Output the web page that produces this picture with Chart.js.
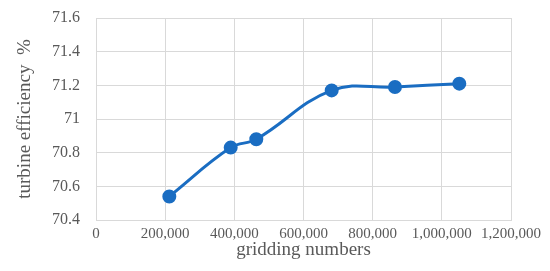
<!DOCTYPE html>
<html>
<head>
<meta charset="utf-8">
<script src="https://cdn.jsdelivr.net/npm/chart.js@4"></script>
<style>
  html,body{margin:0;padding:0;background:#fff}
  #wrap{width:550px;height:271px}
</style>
</head>
<body>
<div id="wrap"><canvas id="c" width="550" height="271"></canvas></div>
<script>
// values
const gridCounts = [212000, 389500, 463500, 681500, 864500, 1050500]
const efficiency = [70.54, 70.83, 70.88, 71.17, 71.19, 71.21]
const xTicks = [0, 200000, 400000, 600000, 800000, 1000000, 1200000]
const yTicks = [70.4, 70.6, 70.8, 71, 71.2, 71.4, 71.6]

const font = "'Liberation Serif', 'Times New Roman', serif"
const grey = '#595959'
const blue = '#1a6dc2'

const points = gridCounts.map((x,i)=>({x, y:efficiency[i]}))

new Chart(document.getElementById('c').getContext('2d'), {
  type: 'scatter',
  data: {
    datasets: [{
      data: points,
      showLine: true,
      borderColor: blue,
      backgroundColor: blue,
      borderWidth: 3,
      pointRadius: 5.5,
      pointHoverRadius: 5.5,
      tension: 0.4
    }]
  },
  options: {
    responsive: false,
    animation: false,
    layout: {padding: {top: 18, right: 39, left: 14, bottom: 10}},
    plugins: {legend: {display: false}, tooltip: {enabled: false}},
    scales: {
      x: {
        type: 'linear',
        min: xTicks[0],
        max: xTicks[xTicks.length-1],
        afterBuildTicks: s => { s.ticks = xTicks.map(v=>({value:v})) },
        afterFit: s => { s.height = 41 },
        grid: {color: '#d9d9d9', lineWidth: 1, drawTicks: false},
        border: {color: '#d9d9d9'},
        ticks: {
          color: grey, padding: 5,
          font: {family: font, size: 15},
          maxRotation: 0,
          callback: v => v.toLocaleString('en-US')
        },
        title: {display: true, text: 'gridding numbers', color: grey,
          font: {family: font, size: 19}, padding: {top: 0, bottom: 0}}
      },
      y: {
        min: yTicks[0],
        max: yTicks[yTicks.length-1],
        afterBuildTicks: s => { s.ticks = yTicks.map(v=>({value:v})) },
        afterFit: s => { s.width = 82; s.paddingTop = 0; s.paddingBottom = 0 },
        grid: {color: '#d9d9d9', lineWidth: 1, drawTicks: false},
        border: {color: '#d9d9d9'},
        ticks: {
          color: grey, padding: 16,
          font: {family: font, size: 16},
          callback: v => String(Math.round(v*10)/10)
        },
        title: {display: true, text: 'turbine efficiency  %', color: grey,
          font: {family: font, size: 19}, padding: {top: 0, bottom: 0}}
      }
    }
  }
})
</script>
</body>
</html>
